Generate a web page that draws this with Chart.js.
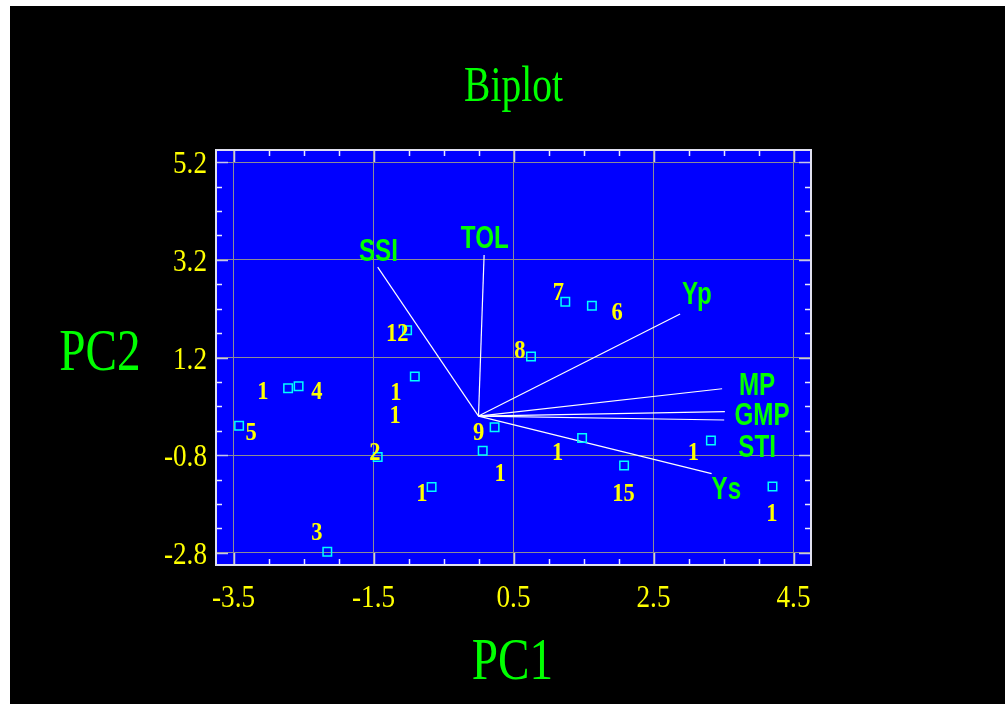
<!DOCTYPE html>
<html>
<head>
<meta charset="utf-8">
<script src="https://cdn.jsdelivr.net/npm/chart.js@4/dist/chart.umd.min.js"></script>
<style>
  html, body { margin: 0; padding: 0; background: #fff; }
  #wrap { position: absolute; left: 10px; top: 6px; width: 995px; height: 698px; background: #000; }
</style>
</head>
<body>
<div id="wrap"><canvas id="biplot" width="995" height="698"></canvas></div>
<script>
// axis ticks
const xTicks = [-3.5, -1.5, 0.5, 2.5, 4.5];
const yTicks = [5.2, 3.2, 1.2, -0.8, -2.8];

// observation scores (cyan squares)
const obsX = [-2.72, -2.57, -3.42, -0.91, -1.02, -1.44, -2.16, -0.67, 0.23, 0.06, 0.75, 1.24, 1.62, 1.48, 2.08, 3.32, 4.20];
const obsY = [0.57, 0.61, -0.20, 0.81, 1.76, -0.84, -2.78, -1.45, -0.23, -0.71, 1.22, 2.34, 2.26, -0.45, -1.01, -0.50, -1.44];

// observation labels (yellow numbers) and where they sit
const obsLabels = ["1", "4", "1", "1", "5", "2", "9", "1", "1", "3", "7", "6", "8", "12", "1", "15", "1", "1"];
const obsLabelX = [-3.08, -2.31, -1.18, -1.19, -3.25, -1.48, 0.00, 0.31, -0.81, -2.31, 1.14, 1.98, 0.59, -1.16, 1.13, 2.07, 3.07, 4.19];
const obsLabelY = [0.52, 0.52, 0.50, 0.03, -0.32, -0.72, -0.32, -1.15, -1.56, -2.36, 2.56, 2.14, 1.36, 1.72, -0.72, -1.56, -0.72, -1.98];

// trait vectors
const traits = ["SSI", "TOL", "Yp", "MP", "GMP", "STI", "Ys"];
const traitX = [-1.44, 0.08, 2.88, 3.48, 3.52, 3.51, 3.33];
const traitY = [3.05, 3.30, 2.09, 0.56, 0.09, -0.08, -1.18];
const traitLabelX = [-1.43, 0.09, 3.12, 3.98, 4.05, 3.98, 3.54];
const traitLabelY = [3.40, 3.67, 2.52, 0.66, 0.05, -0.61, -1.47];

const X_MIN = -3.75, X_MAX = 4.75, Y_MIN = -3.05, Y_MAX = 5.45;

function condensed(ctx, text, x, y, font, color, sx, align) {
  ctx.save();
  ctx.font = font;
  ctx.fillStyle = color;
  ctx.textAlign = align || "center";
  ctx.textBaseline = "alphabetic";
  ctx.translate(x, y);
  ctx.scale(sx, 1);
  ctx.fillText(text, 0, 0);
  ctx.restore();
}

const biplotDecor = {
  id: "biplotDecor",
  beforeDraw(chart) {
    const { ctx, chartArea: a } = chart;
    ctx.save();
    ctx.fillStyle = "#000";
    ctx.fillRect(0, 0, chart.width, chart.height);
    ctx.fillStyle = "#0000ff";
    ctx.fillRect(a.left, a.top, a.right - a.left, a.bottom - a.top);
    ctx.restore();
  },
  afterDraw(chart) {
    const { ctx, chartArea: a, scales } = chart;
    const xs = scales.x, ys = scales.y;

    // minor and major ticks, inward on all four sides
    ctx.save();
    ctx.lineWidth = 1.5;
    for (let v = -3.5; v <= 4.51; v += 0.5) {
      const px = Math.round(xs.getPixelForValue(v)) + 0.5;
      const major = xTicks.some(t => Math.abs(t - v) < 1e-6);
      const len = major ? 12 : 6;
      ctx.strokeStyle = major ? "#c8c8e8" : "#e8e8ff";
      ctx.beginPath();
      ctx.moveTo(px, a.bottom); ctx.lineTo(px, a.bottom - len);
      ctx.moveTo(px, a.top); ctx.lineTo(px, a.top + len);
      ctx.stroke();
    }
    for (let v = -2.8; v <= 5.21; v += 0.5) {
      const py = Math.round(ys.getPixelForValue(v)) + 0.5;
      const major = yTicks.some(t => Math.abs(t - v) < 1e-6);
      const len = major ? 12 : 6;
      ctx.strokeStyle = major ? "#c8c8e8" : "#e8e8ff";
      ctx.beginPath();
      ctx.moveTo(a.left, py); ctx.lineTo(a.left + len, py);
      ctx.moveTo(a.right, py); ctx.lineTo(a.right - len, py);
      ctx.stroke();
    }
    // frame
    ctx.strokeStyle = "#e0e0f0";
    ctx.lineWidth = 2;
    ctx.strokeRect(a.left, a.top, a.right - a.left, a.bottom - a.top);
    ctx.restore();

    // trait names
    traits.forEach((t, i) => {
      const px = xs.getPixelForValue(traitLabelX[i]);
      const py = ys.getPixelForValue(traitLabelY[i]);
      condensed(ctx, t, px, py + 11, "bold 31px 'Liberation Sans', Arial, sans-serif", "#00ff00", 0.78);
    });

    // observation numbers
    obsLabels.forEach((t, i) => {
      const px = xs.getPixelForValue(obsLabelX[i]);
      const py = ys.getPixelForValue(obsLabelY[i]);
      condensed(ctx, t, px, py + 8.5, "bold 25px 'Liberation Serif', 'Times New Roman', serif", "#ffff00", 0.9);
    });

    // tick labels
    const tickFont = "32px 'Liberation Serif', 'Times New Roman', serif";
    xTicks.forEach(v => {
      condensed(ctx, v.toFixed(1), xs.getPixelForValue(v), a.bottom + 42, tickFont, "#ffff00", 0.85);
    });
    yTicks.forEach(v => {
      condensed(ctx, v.toFixed(1), a.left - 9, ys.getPixelForValue(v) + 11, tickFont, "#ffff00", 0.85, "right");
    });

    // titles
    condensed(ctx, "Biplot", 503.5, 95, "50px 'Liberation Serif', 'Times New Roman', serif", "#00ff00", 0.79);
    condensed(ctx, "PC1", 502.5, 673, "59px 'Liberation Serif', 'Times New Roman', serif", "#00ff00", 0.8);
    condensed(ctx, "PC2", 90, 364, "59px 'Liberation Serif', 'Times New Roman', serif", "#00ff00", 0.8);
  }
};

const vectorSets = traits.map((t, i) => ({
  type: "line",
  label: t,
  data: [{ x: 0, y: 0 }, { x: traitX[i], y: traitY[i] }],
  borderColor: "#ffffff",
  borderWidth: 1.2,
  pointRadius: 0,
  fill: false,
  tension: 0,
}));

const ctx = document.getElementById("biplot").getContext("2d");
new Chart(ctx, {
  type: "scatter",
  data: {
    datasets: [
      {
        label: "Observations",
        data: obsX.map((x, i) => ({ x: x, y: obsY[i] })),
        pointStyle: "rect",
        pointRadius: 6,
        borderWidth: 1.5,
        borderColor: "#00ffff",
        backgroundColor: "rgba(0,0,0,0)",
      },
      ...vectorSets,
    ],
  },
  options: {
    responsive: false,
    animation: false,
    layout: { padding: { left: 206, right: 194, top: 144, bottom: 139 } },
    scales: {
      x: {
        type: "linear",
        min: X_MIN,
        max: X_MAX,
        afterBuildTicks: (s) => { s.ticks = xTicks.map(v => ({ value: v })); },
        afterFit: (s) => { s.height = 0; },
        ticks: { display: false },
        grid: { color: "#8c8c96", lineWidth: 1, drawTicks: false },
        border: { display: false },
      },
      y: {
        type: "linear",
        min: Y_MIN,
        max: Y_MAX,
        afterBuildTicks: (s) => { s.ticks = yTicks.map(v => ({ value: v })); },
        afterFit: (s) => { s.width = 0; },
        ticks: { display: false },
        grid: { color: "#8c8c96", lineWidth: 1, drawTicks: false },
        border: { display: false },
      },
    },
    plugins: {
      legend: { display: false },
      tooltip: { enabled: false },
      title: { display: false },
    },
  },
  plugins: [biplotDecor],
});
</script>
</body>
</html>
